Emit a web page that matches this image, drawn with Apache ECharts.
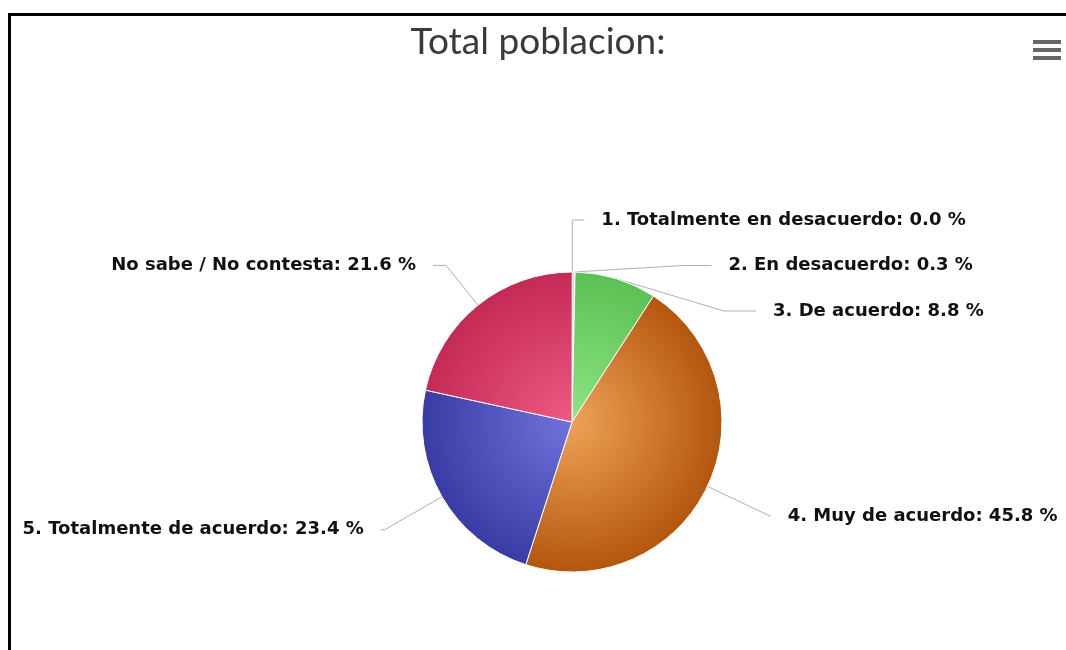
<!DOCTYPE html>
<html>
<head>
<meta charset="utf-8">
<script src="https://cdn.jsdelivr.net/npm/echarts@6/dist/echarts.min.js"></script>
<style>
html,body{margin:0;padding:0;background:#fff;}
#chart{width:1066px;height:650px;}
</style>
</head>
<body>
<div id="chart"></div>
<script>
// ---- data ----
var titleText = 'Total poblacion:';
var categories = [
  '1. Totalmente en desacuerdo',
  '2. En desacuerdo',
  '3. De acuerdo',
  '4. Muy de acuerdo',
  '5. Totalmente de acuerdo',
  'No sabe / No contesta'
];
var values = [0.0, 0.3, 8.8, 45.8, 23.4, 21.6];
var innerColors = ['#9ab8e6', '#f0f0f0', '#8be685', '#eea257', '#7073dc', '#ee5a84'];
var outerColors = ['#6f8fc8', '#d8d8d8', '#5cc154', '#b4560e', '#3a3ca6', '#c42a56'];

// ---- chart ----
var cx = 572, cy = 422, R = 150;
var lineLens = [52, 52, 52, 70, 66, 51];
var lineLens2 = [12, 28, 32, 0, 4, 13];

var data = categories.map(function (name, i) {
  return {
    name: name,
    value: values[i],
    itemStyle: {
      color: {
        type: 'radial', x: cx, y: cy, r: R, global: true,
        colorStops: [
          { offset: 0, color: innerColors[i] },
          { offset: 1, color: outerColors[i] }
        ]
      }
    },
    labelLine: { length: lineLens[i], length2: lineLens2[i] }
  };
});

var chart = echarts.init(document.getElementById('chart'), null, { renderer: 'canvas' });
chart.setOption({
  backgroundColor: '#fff',
  animation: false,
  title: {
    text: titleText,
    left: 533,
    textAlign: 'center',
    top: 19,
    textStyle: { fontFamily: 'Lato', fontSize: 37, fontWeight: 'normal', color: '#3a3a3a' }
  },
  graphic: [
    { type: 'polyline', shape: { points: [[9.5, 650], [9.5, 14.5], [1066, 14.5]] },
      style: { stroke: '#000', lineWidth: 3, fill: null } },
    { type: 'rect', shape: { x: 1033, y: 40, width: 28, height: 4 }, style: { fill: '#666' } },
    { type: 'rect', shape: { x: 1033, y: 48, width: 28, height: 4 }, style: { fill: '#666' } },
    { type: 'rect', shape: { x: 1033, y: 56, width: 28, height: 4 }, style: { fill: '#666' } }
  ],
  series: [{
    type: 'pie',
    center: [cx, cy],
    radius: R,
    startAngle: 89.9,
    clockwise: true,
    avoidLabelOverlap: true,
    bleedMargin: 0,
    itemStyle: { borderColor: '#fff', borderWidth: 1 },
    label: {
      show: true,
      formatter: function (p) { return p.name + ': ' + p.value.toFixed(1) + ' %'; },
      fontFamily: 'DejaVu Sans',
      fontWeight: 'bold',
      fontSize: 18,
      lineHeight: 43.5,
      color: '#111',
      overflow: 'none',
      distanceToLabelLine: 17
    },
    labelLine: {
      show: true,
      lineStyle: { color: '#b0b0b0', width: 1 }
    },
    emphasis: { disabled: true },
    data: data
  }]
});
</script>
</body>
</html>
